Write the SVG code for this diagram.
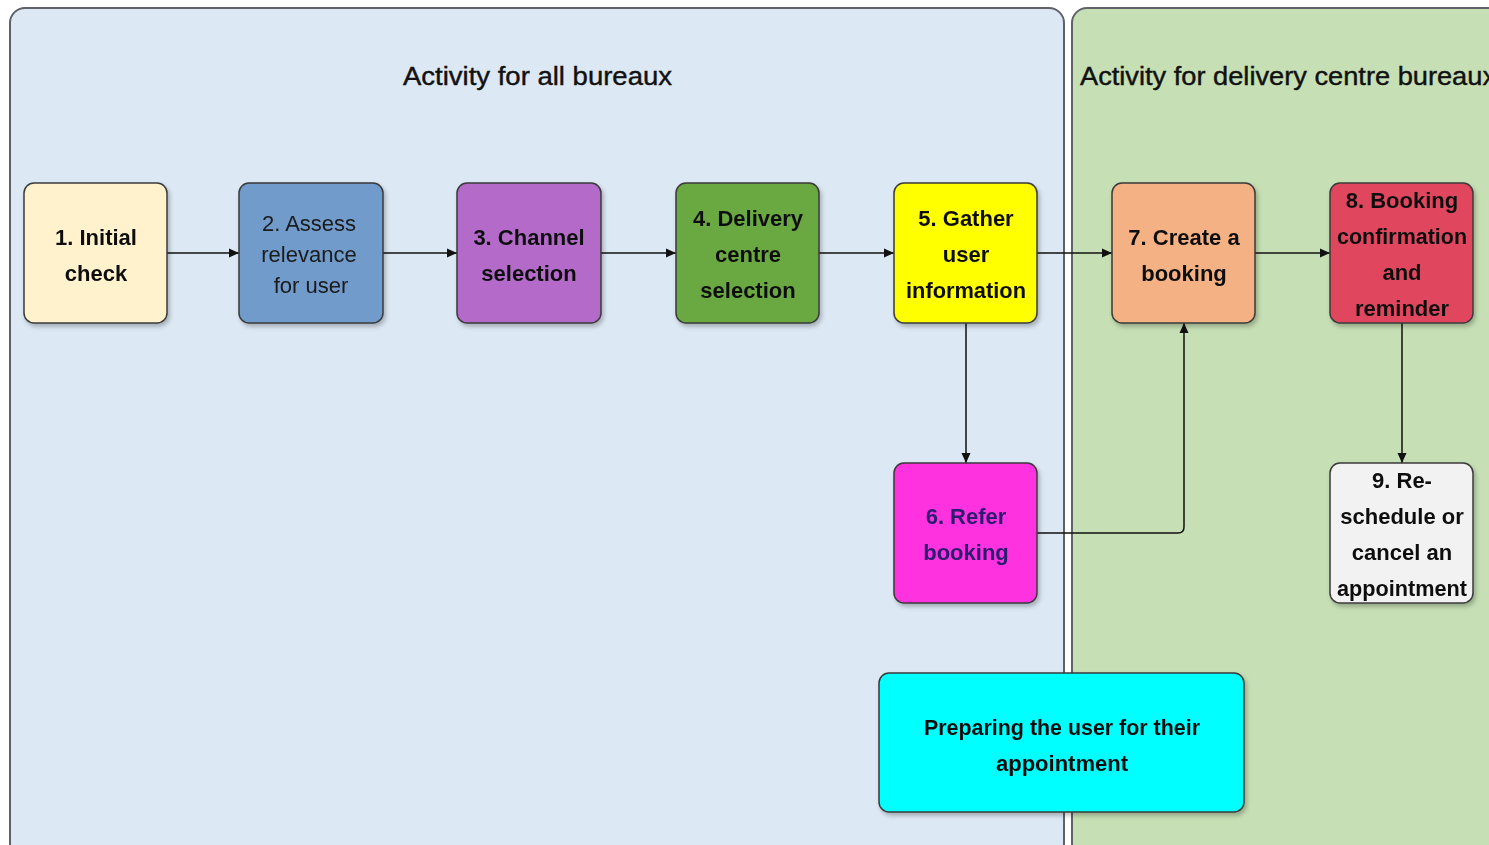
<svg xmlns="http://www.w3.org/2000/svg" width="1489" height="845" viewBox="0 0 1489 845">
<defs>
<style>
.panel{stroke:#5f6368;stroke-width:2}
.node{stroke:#3a3a3a;stroke-width:1.5}
.t{font-family:"Liberation Sans",Arial,sans-serif;font-size:22px;font-weight:bold;fill:#111;text-anchor:middle}
.tr{font-family:"Liberation Sans",Arial,sans-serif;font-size:22px;fill:#1a1a1a;text-anchor:middle}
.title{font-family:"Liberation Sans",Arial,sans-serif;font-size:25px;fill:#111;stroke:#111;stroke-width:0.4}
.conn{stroke:#111;stroke-width:1.5;fill:none}
</style>
<marker id="arr" markerWidth="12" markerHeight="12" refX="10" refY="6" orient="auto" markerUnits="userSpaceOnUse">
<path d="M0,1.5 L10,6 L0,10.5 Z" fill="#111"/>
</marker>
<filter id="sh" x="-10%" y="-10%" width="130%" height="130%">
<feDropShadow dx="2" dy="3" stdDeviation="2" flood-color="#000" flood-opacity="0.25"/>
</filter>
</defs>
<rect width="1489" height="845" fill="#ffffff"/>
<g id="panel-all">
<rect class="panel" x="10" y="8" width="1054" height="850" rx="15" fill="#DCE8F4"/>
<text class="title" x="403" y="85" textLength="269" lengthAdjust="spacingAndGlyphs">Activity for all bureaux</text>
</g>
<g id="panel-delivery">
<rect class="panel" x="1072" y="8" width="440" height="850" rx="15" fill="#C6DFB4"/>
<text class="title" x="1080" y="85" textLength="416" lengthAdjust="spacingAndGlyphs">Activity for delivery centre bureaux</text>
</g>
<g id="connectors">
<line class="conn" x1="167" y1="253" x2="239" y2="253" marker-end="url(#arr)"/>
<line class="conn" x1="383" y1="253" x2="457" y2="253" marker-end="url(#arr)"/>
<line class="conn" x1="601" y1="253" x2="676" y2="253" marker-end="url(#arr)"/>
<line class="conn" x1="819" y1="253" x2="894" y2="253" marker-end="url(#arr)"/>
<line class="conn" x1="1037" y1="253" x2="1112" y2="253" marker-end="url(#arr)"/>
<line class="conn" x1="1255" y1="253" x2="1330" y2="253" marker-end="url(#arr)"/>
<line class="conn" x1="966" y1="323" x2="966" y2="463" marker-end="url(#arr)"/>
<line class="conn" x1="1402" y1="323" x2="1402" y2="463" marker-end="url(#arr)"/>
<path class="conn" d="M1037,533 H1178 Q1184,533 1184,527 V323" marker-end="url(#arr)"/>
</g>
<g id="node1" filter="url(#sh)">
<rect class="node" x="24" y="183" width="143" height="140" rx="10" fill="#FFF2CC"/>
<text class="t" x="96" y="245">1. Initial</text>
<text class="t" x="96" y="281">check</text>
</g>
<g id="node2" filter="url(#sh)">
<rect class="node" x="239" y="183" width="144" height="140" rx="10" fill="#709BCB"/>
<text class="tr" x="309" y="231">2. Assess</text>
<text class="tr" x="309" y="262">relevance</text>
<text class="tr" x="311" y="293">for user</text>
</g>
<g id="node3" filter="url(#sh)">
<rect class="node" x="457" y="183" width="144" height="140" rx="10" fill="#B36BC9"/>
<text class="t" x="529" y="245">3. Channel</text>
<text class="t" x="529" y="281">selection</text>
</g>
<g id="node4" filter="url(#sh)">
<rect class="node" x="676" y="183" width="143" height="140" rx="10" fill="#6AA843"/>
<text class="t" x="748" y="226">4. Delivery</text>
<text class="t" x="748" y="262">centre</text>
<text class="t" x="748" y="298">selection</text>
</g>
<g id="node5" filter="url(#sh)">
<rect class="node" x="894" y="183" width="143" height="140" rx="10" fill="#FFFF00"/>
<text class="t" x="966" y="226">5. Gather</text>
<text class="t" x="966" y="262">user</text>
<text class="t" x="966" y="298" textLength="120" lengthAdjust="spacingAndGlyphs">information</text>
</g>
<g id="node6" filter="url(#sh)">
<rect class="node" x="894" y="463" width="143" height="140" rx="10" fill="#FF33E0"/>
<text class="t" x="966" y="524" style="fill:#2A1B6E">6. Refer</text>
<text class="t" x="966" y="560" style="fill:#2A1B6E">booking</text>
</g>
<g id="node7" filter="url(#sh)">
<rect class="node" x="1112" y="183" width="143" height="140" rx="10" fill="#F4B183"/>
<text class="t" x="1184" y="245">7. Create a</text>
<text class="t" x="1184" y="281">booking</text>
</g>
<g id="node8" filter="url(#sh)">
<rect class="node" x="1330" y="183" width="143" height="140" rx="10" fill="#E0475F"/>
<text class="t" x="1402" y="208">8. Booking</text>
<text class="t" x="1402" y="244" textLength="130" lengthAdjust="spacingAndGlyphs">confirmation</text>
<text class="t" x="1402" y="280">and</text>
<text class="t" x="1402" y="316">reminder</text>
</g>
<g id="node9" filter="url(#sh)">
<rect class="node" x="1330" y="463" width="143" height="140" rx="10" fill="#F2F2F2"/>
<text class="t" x="1402" y="488">9. Re-</text>
<text class="t" x="1402" y="524">schedule or</text>
<text class="t" x="1402" y="560">cancel an</text>
<text class="t" x="1402" y="596" textLength="130" lengthAdjust="spacingAndGlyphs">appointment</text>
</g>
<g id="node-prepare" filter="url(#sh)">
<rect class="node" x="879" y="673" width="365" height="139" rx="10" fill="#00FFFF"/>
<text class="t" x="1062" y="735" textLength="276" lengthAdjust="spacingAndGlyphs">Preparing the user for their</text>
<text class="t" x="1062" y="771">appointment</text>
</g>
</svg>
